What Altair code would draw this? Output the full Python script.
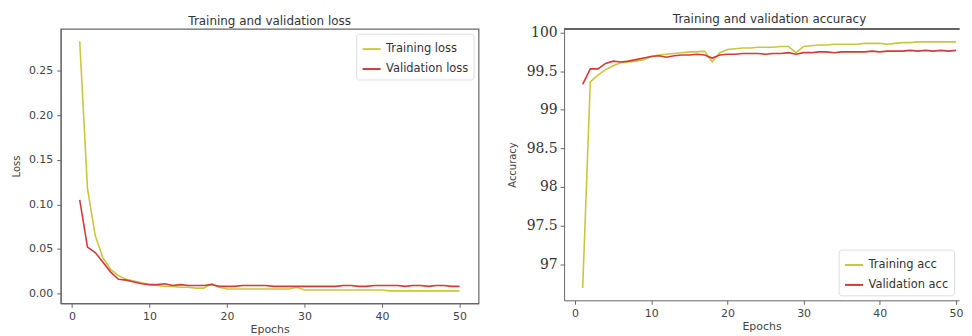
import altair as alt
import pandas as pd

epochs = list(range(1, 51))

train_loss = [0.283, 0.118, 0.065, 0.040, 0.027, 0.020, 0.016, 0.014, 0.012, 0.010,
              0.009, 0.008, 0.008, 0.007, 0.007, 0.006, 0.006, 0.011, 0.007, 0.005,
              0.005, 0.005, 0.005, 0.005, 0.005, 0.005, 0.005, 0.005, 0.007, 0.004,
              0.004, 0.004, 0.004, 0.004, 0.004, 0.004, 0.004, 0.004, 0.004, 0.004,
              0.003, 0.003, 0.003, 0.003, 0.003, 0.003, 0.003, 0.003, 0.003, 0.003]
val_loss = [0.105, 0.052, 0.046, 0.035, 0.024, 0.016, 0.015, 0.013, 0.011, 0.010,
            0.010, 0.011, 0.009, 0.010, 0.009, 0.009, 0.009, 0.010, 0.008, 0.008,
            0.008, 0.009, 0.009, 0.009, 0.009, 0.008, 0.008, 0.008, 0.008, 0.008,
            0.008, 0.008, 0.008, 0.008, 0.009, 0.009, 0.008, 0.008, 0.009, 0.009,
            0.009, 0.009, 0.008, 0.009, 0.009, 0.008, 0.009, 0.009, 0.008, 0.008]

train_acc = [96.69, 99.36, 99.45, 99.52, 99.57, 99.61, 99.62, 99.63, 99.65, 99.69,
             99.71, 99.72, 99.73, 99.74, 99.75, 99.75, 99.76, 99.62, 99.74, 99.78,
             99.79, 99.80, 99.80, 99.81, 99.81, 99.81, 99.82, 99.82, 99.74, 99.82,
             99.83, 99.84, 99.84, 99.85, 99.85, 99.85, 99.85, 99.86, 99.86, 99.86,
             99.85, 99.86, 99.87, 99.87, 99.88, 99.88, 99.88, 99.88, 99.88, 99.88]
val_acc = [99.33, 99.53, 99.53, 99.60, 99.63, 99.62, 99.63, 99.65, 99.67, 99.69,
           99.70, 99.68, 99.70, 99.71, 99.71, 99.72, 99.71, 99.67, 99.71, 99.72,
           99.72, 99.73, 99.73, 99.73, 99.72, 99.73, 99.73, 99.74, 99.72, 99.74,
           99.74, 99.75, 99.75, 99.74, 99.75, 99.75, 99.75, 99.75, 99.76, 99.75,
           99.76, 99.76, 99.76, 99.77, 99.76, 99.77, 99.76, 99.77, 99.76, 99.77]

loss_series = ["Training loss", "Validation loss"]
acc_series = ["Training acc", "Validation acc"]
line_colors = ["#c8c83c", "#d43a3a"]
x_ticks = [0, 10, 20, 30, 40, 50]
loss_ticks = [0, 0.05, 0.10, 0.15, 0.20, 0.25]
acc_ticks = [97, 97.5, 98, 98.5, 99, 99.5, 100]

loss_df = pd.DataFrame({
    "Epoch": epochs * 2,
    "value": train_loss + val_loss,
    "series": [loss_series[0]] * 50 + [loss_series[1]] * 50,
})
acc_df = pd.DataFrame({
    "Epoch": epochs * 2,
    "value": train_acc + val_acc,
    "series": [acc_series[0]] * 50 + [acc_series[1]] * 50,
})

FONT = "DejaVu Sans"
AX = "#666"

def xaxis():
    return alt.Axis(values=x_ticks, title="Epochs", grid=False,
                    labelFont=FONT, labelFontSize=11, labelColor="#444",
                    titleFont=FONT, titleFontSize=11, titleFontWeight="normal",
                    titleColor="#444", titlePadding=2, tickSize=4, labelPadding=3,
                    domainColor=AX, tickColor=AX, labelFlush=False)

def legend(orient):
    return alt.Legend(title=None, orient=orient, offset=5, symbolType="stroke",
                      symbolStrokeWidth=2, symbolSize=330, labelFont=FONT,
                      labelFontSize=11.5, labelColor="#333", strokeColor="#ddd",
                      fillColor="white", padding=5, cornerRadius=3, rowPadding=4)

LW = 420
LH = 276
RW = 397
RH = 273

loss_chart = alt.Chart(loss_df).mark_line(strokeWidth=1.6, clip=True).encode(
    x=alt.X("Epoch:Q", scale=alt.Scale(domain=[-1.45, 52.45], nice=False, zero=False),
            axis=xaxis()),
    y=alt.Y("value:Q", scale=alt.Scale(domain=[-0.011, 0.297], nice=False, zero=False),
            axis=alt.Axis(values=loss_ticks, format=".2f",
                          title="Loss", grid=False, labelFont=FONT, labelFontSize=11,
                          labelColor="#444", titleFont=FONT, titleFontSize=10,
                          titleFontWeight="normal", titleColor="#444", titlePadding=7,
                          tickSize=4, labelPadding=4, domainColor=AX, tickColor=AX)),
    color=alt.Color("series:N", scale=alt.Scale(domain=loss_series, range=line_colors),
                    legend=legend("top-right")),
).properties(
    width=LW, height=LH,
    view=alt.ViewBackground(stroke=AX, strokeWidth=1.2),
    title=alt.TitleParams("Training and validation loss", font=FONT, fontSize=12,
                          fontWeight="normal", color="#333", offset=1),
)

acc_lines = alt.Chart(acc_df).mark_line(strokeWidth=1.6, clip=True).encode(
    x=alt.X("Epoch:Q", scale=alt.Scale(domain=[-1.44, 50.4], nice=False, zero=False),
            axis=xaxis()),
    y=alt.Y("value:Q", scale=alt.Scale(domain=[96.53, 100.05], nice=False, zero=False),
            axis=alt.Axis(values=acc_ticks, format="~g",
                          title="Accuracy", grid=False, labelFont="DejaVu Serif",
                          labelFontSize=14, labelColor="#333", titleFont=FONT,
                          titleFontSize=10, titleFontWeight="normal", titleColor="#444",
                          titlePadding=9, tickSize=4, labelPadding=3, domainColor=AX,
                          tickColor=AX)),
    color=alt.Color("series:N", scale=alt.Scale(domain=acc_series, range=line_colors),
                    legend=legend("bottom-right")),
)

top_frame = alt.Chart(acc_df).mark_rule(color=AX, strokeWidth=1).encode(
    x=alt.value(0), x2=alt.value(RW), y=alt.value(0.5)
)

acc_chart = alt.layer(acc_lines, top_frame).properties(
    width=RW, height=RH,
    view=alt.ViewBackground(stroke="transparent"),
    title=alt.TitleParams("Training and validation accuracy", font=FONT, fontSize=12,
                          fontWeight="normal", color="#333", offset=0, dx=8),
)

chart = alt.hconcat(loss_chart, acc_chart, spacing=27).resolve_scale(
    color="independent"
).configure(
    background="white", padding={"left": 2, "top": 3, "right": 0, "bottom": 0}
)

chart.save("out.html", embed_options={"renderer": "svg", "actions": False})
